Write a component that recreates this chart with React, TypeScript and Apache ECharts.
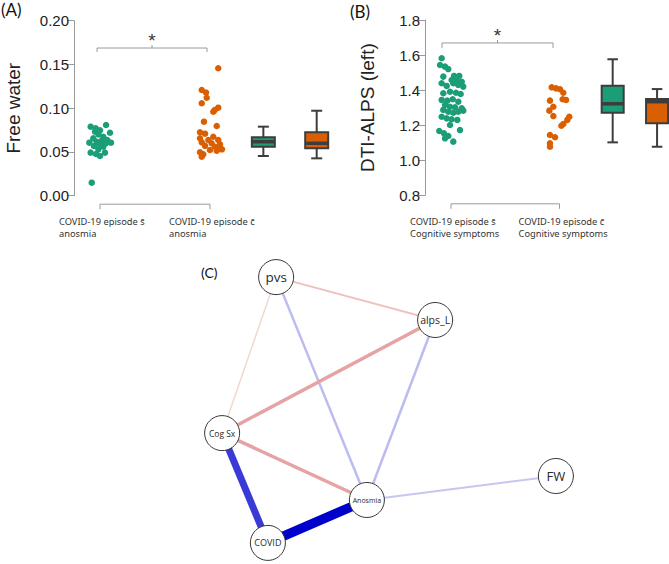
import React, { useEffect, useRef } from "react";
import * as echarts from "echarts";

const GREEN = "#1b9e77";
const ORANGE = "#d95f02";
const BOX_STROKE = "#3d3d3d";
const AXIS_GRAY = "#9a9a9a";

// ---------- Panel A : Free water ----------
const fwGreenJitter = [-0.085, -0.039, 0.055, 0, 0.091, -0.015, 0.03, -0.061, -0.097, -0.03, 0.015, 0.066, 0.1, 0, -0.055, 0.03, -0.015, -0.085, -0.036, 0.045, 0, -0.075, 0.055, -0.045];
const fwGreenValues = [0.0789, 0.077, 0.0808, 0.0747, 0.072, 0.0701, 0.0674, 0.0655, 0.0606, 0.0617, 0.0629, 0.0637, 0.0606, 0.0587, 0.0568, 0.056, 0.053, 0.0492, 0.0477, 0.0492, 0.0454, 0.0149, 0.0599, 0.0732];
const fwOrangeJitter = [0.075, -0.075, -0.036, -0.03, -0.075, 0.075, 0.043, 0.03, -0.055, 0.061, -0.091, -0.045, 0.03, -0.091, -0.015, 0.075, -0.075, 0.015, 0.091, -0.045, 0.045, 0.091, 0, 0.061, -0.091, -0.061, -0.075, 0.109];
const fwOrangeValues = [0.1456, 0.1208, 0.118, 0.112, 0.1056, 0.1006, 0.098, 0.096, 0.0846, 0.0797, 0.0725, 0.0709, 0.0674, 0.0656, 0.0637, 0.0637, 0.061, 0.0599, 0.0587, 0.057, 0.056, 0.0542, 0.0522, 0.0514, 0.0496, 0.0473, 0.0446, 0.053];
// box stats: [min, q1, median, q3, max]
const fwGreenBox = [0.0454, 0.056, 0.0617, 0.0667, 0.0789];
const fwOrangeBox = [0.0427, 0.0542, 0.0599, 0.0725, 0.0971];
const fwTicks = [0, 0.05, 0.1, 0.15, 0.2];
const fwLabels = [["COVID-19 episode s\u0304", "anosmia"], ["COVID-19 episode c\u0304", "anosmia"]];

// ---------- Panel B : DTI-ALPS (left) ----------
const alpsGreenJitter = [-0.086, -0.101, -0.055, -0.025, -0.071, 0.028, 0.076, 0.006, 0.053, 0.099, 0.021, 0.067, -0.086, -0.04, 0.113, -0.071, -0.009, 0.046, 0.089, -0.086, -0.034, 0.016, 0.067, -0.055, -0.009, 0.037, 0.099, -0.071, -0.025, 0.021, 0.067, 0.113, -0.086, -0.04, 0.006, 0.058, -0.009, 0.083, -0.108, -0.065, -0.025, -0.055, 0.021];
const alpsGreenValues = [1.582, 1.543, 1.534, 1.52, 1.477, 1.481, 1.481, 1.458, 1.454, 1.448, 1.439, 1.429, 1.439, 1.424, 1.42, 1.382, 1.391, 1.385, 1.378, 1.344, 1.34, 1.348, 1.334, 1.315, 1.305, 1.302, 1.296, 1.287, 1.277, 1.271, 1.277, 1.283, 1.248, 1.239, 1.234, 1.23, 1.201, 1.172, 1.167, 1.154, 1.138, 1.125, 1.106];
const alpsOrangeJitter = [-0.072, -0.032, 0.005, 0.035, -0.088, 0.029, 0.06, -0.057, -0.094, -0.057, 0.09, 0.072, 0.035, 0.017, -0.088, -0.041, -0.088, -0.088];
const alpsOrangeValues = [1.416, 1.41, 1.405, 1.385, 1.34, 1.348, 1.344, 1.305, 1.283, 1.252, 1.248, 1.23, 1.207, 1.197, 1.144, 1.131, 1.097, 1.077];
const alpsGreenBox = [1.102, 1.271, 1.322, 1.425, 1.576];
const alpsOrangeBox = [1.077, 1.211, 1.334, 1.349, 1.406];
const alpsTicks = [0.8, 1.0, 1.2, 1.4, 1.6, 1.8];
const alpsLabels = [["COVID-19 episode s\u0304", "Cognitive symptoms"], ["COVID-19 episode c\u0304", "Cognitive symptoms"]];

// ---------- Panel C : network ----------
const nodeNames = ["pvs", "alps_L", "Cog Sx", "FW", "Anosmia", "COVID"];
const nodeX = [0.203, 0.627, 0.059, 0.949, 0.445, 0.181];
const nodeY = [0.943, 0.8, 0.423, 0.28, 0.2, 0.057];
const nodeFont = [13.5, 10.5, 8.5, 13, 7, 9];
const edgeSource = ["pvs", "pvs", "pvs", "alps_L", "alps_L", "Cog Sx", "Anosmia", "Cog Sx", "Anosmia"];
const edgeTarget = ["alps_L", "Cog Sx", "Anosmia", "Cog Sx", "Anosmia", "Anosmia", "FW", "COVID", "COVID"];
const edgeWeight = [2, 1.5, 2.5, 3.5, 2.5, 3.5, 2, 7, 9.5];
const edgeColor = ["#efc2be", "#f3d6d0", "#bcbcf0", "#e6a3a3", "#bcbcf0", "#e6a3a3", "#c6c6f3", "#3a3ad6", "#0000cc"];

const TICK_FONT = "Liberation Sans";
const SMALL_FONT = "Noto Sans";
const PANEL_FONT = "Lato";

function scatter(grid: number, center: number, jit: number[], vals: number[], color: string) {
  return {
    type: "scatter",
    xAxisIndex: grid,
    yAxisIndex: grid,
    symbolSize: 6.5,
    itemStyle: { color, opacity: 1 },
    silent: true,
    data: vals.map((v, i) => [center + jit[i], v]),
  };
}

function boxSeries(grid: number, xs: number[], boxes: number[][], colors: string[], boxW: number) {
  return {
    type: "custom",
    xAxisIndex: grid,
    yAxisIndex: grid,
    silent: true,
    data: boxes.map((b, i) => [xs[i], ...b]),
    renderItem: (params: any, api: any) => {
      const x = api.value(0);
      const lo = api.coord([x, api.value(1)]);
      const q1 = api.coord([x, api.value(2)]);
      const md = api.coord([x, api.value(3)]);
      const q3 = api.coord([x, api.value(4)]);
      const hi = api.coord([x, api.value(5)]);
      const w = api.size([boxW, 0])[0];
      const cw = w * 0.48;
      const cx = lo[0];
      const ls = { stroke: BOX_STROKE, lineWidth: 2 };
      return {
        type: "group",
        children: [
          { type: "line", shape: { x1: cx, y1: hi[1], x2: cx, y2: q3[1] }, style: ls },
          { type: "line", shape: { x1: cx, y1: q1[1], x2: cx, y2: lo[1] }, style: ls },
          { type: "line", shape: { x1: cx - cw / 2, y1: hi[1], x2: cx + cw / 2, y2: hi[1] }, style: ls },
          { type: "line", shape: { x1: cx - cw / 2, y1: lo[1], x2: cx + cw / 2, y2: lo[1] }, style: ls },
          {
            type: "rect",
            shape: { x: cx - w / 2, y: q3[1], width: w, height: q1[1] - q3[1] },
            style: { fill: colors[params.dataIndex], stroke: BOX_STROKE, lineWidth: 2 },
          },
          { type: "line", shape: { x1: cx - w / 2, y1: md[1], x2: cx + w / 2, y2: md[1] }, style: { stroke: BOX_STROKE, lineWidth: 3.5 } },
        ],
      };
    },
  };
}

function sigBracket(grid: number, x1: number, x2: number, y: number, tickDown: number) {
  return {
    type: "custom",
    xAxisIndex: grid,
    yAxisIndex: grid,
    silent: true,
    data: [[x1, x2, y]],
    renderItem: (params: any, api: any) => {
      const p1 = api.coord([api.value(0), api.value(2)]);
      const p2 = api.coord([api.value(1), api.value(2)]);
      const mx = (p1[0] + p2[0]) / 2;
      return {
        type: "group",
        children: [
          {
            type: "polyline",
            shape: { points: [[p1[0], p1[1] + tickDown], [p1[0], p1[1]], [p2[0], p2[1]], [p2[0], p2[1] + tickDown]] },
            style: { stroke: AXIS_GRAY, lineWidth: 1, fill: "none" },
          },
          { type: "line", shape: { x1: mx, y1: p1[1], x2: mx, y2: p1[1] - 3 }, style: { stroke: AXIS_GRAY, lineWidth: 1 } },
          {
            type: "text",
            x: mx,
            y: p1[1] - 7.5,
            style: { text: "*", fontSize: 19, fontFamily: TICK_FONT, fill: "#333", align: "center", verticalAlign: "middle" },
          },
        ],
      };
    },
  };
}

function catAxis(grid: number, yMin: number, labels: string[][]) {
  return {
    type: "custom",
    xAxisIndex: grid,
    yAxisIndex: grid,
    silent: true,
    data: [[1, 2, yMin]],
    renderItem: (params: any, api: any) => {
      const p1 = api.coord([api.value(0), api.value(2)]);
      const p2 = api.coord([api.value(1), api.value(2)]);
      const y = p1[1] + 8.5;
      const children: any[] = [
        {
          type: "polyline",
          shape: { points: [[p1[0], y + 5], [p1[0], y], [p2[0], y], [p2[0], y + 5]] },
          style: { stroke: AXIS_GRAY, lineWidth: 1, fill: "none" },
        },
      ];
      [p1, p2].forEach((p, i) => {
        children.push({
          type: "text",
          x: p[0] - 41,
          y: y + 12,
          style: {
            text: labels[i].join("\n"),
            fontSize: 9.3,
            lineHeight: 11.5,
            fontFamily: SMALL_FONT,
            fill: "#333",
            align: "left",
            verticalAlign: "top",
          },
        });
      });
      return { type: "group", children };
    },
  };
}

function yAxisCfg(grid: number, min: number, max: number, interval: number, digits: number, name: string, gap: number) {
  return {
    type: "value",
    gridIndex: grid,
    min,
    max,
    interval,
    name,
    nameLocation: "middle",
    nameGap: gap,
    nameRotate: 90,
    nameTextStyle: { fontSize: 19, fontFamily: TICK_FONT, color: "#222" },
    axisLine: { show: true, lineStyle: { color: AXIS_GRAY, width: 1 } },
    axisTick: { show: true, length: 7, lineStyle: { color: AXIS_GRAY } },
    splitLine: { show: false },
    axisLabel: {
      fontSize: 15,
      fontFamily: TICK_FONT,
      color: "#222",
      margin: 5,
      formatter: (v: number) => v.toFixed(digits),
    },
  };
}

export default function App() {
  const ref = useRef<HTMLDivElement>(null);
  useEffect(() => {
    if (!ref.current) return;
    const chart = echarts.init(ref.current, undefined, { renderer: "svg" });
    const option: any = {
      animation: false,
      backgroundColor: "#ffffff",
      grid: [
        { left: 74, top: 20.7, width: 256, height: 175, outerBoundsMode: "none" },
        { left: 425, top: 20, width: 244, height: 175.3, outerBoundsMode: "none" },
        { left: 200, top: 260, width: 375, height: 300, outerBoundsMode: "none" },
      ],
      xAxis: [
        { type: "value", gridIndex: 0, min: 0.7636, max: 3.091, show: false },
        { type: "value", gridIndex: 1, min: 0.7604, max: 3.009, show: false },
        { type: "value", gridIndex: 2, min: 0, max: 1, show: false },
      ],
      yAxis: [
        yAxisCfg(0, fwTicks[0], fwTicks[fwTicks.length - 1], 0.05, 2, "Free water", 51),
        yAxisCfg(1, alpsTicks[0], alpsTicks[alpsTicks.length - 1], 0.2, 1, "DTI-ALPS (left)", 48),
        { type: "value", gridIndex: 2, min: 0, max: 1, show: false },
      ],
      series: [
        scatter(0, 1, fwGreenJitter, fwGreenValues, GREEN),
        scatter(0, 2, fwOrangeJitter, fwOrangeValues, ORANGE),
        boxSeries(0, [2.485, 2.97], [fwGreenBox, fwOrangeBox], [GREEN, ORANGE], 0.209),
        sigBracket(0, 0.973, 1.973, 0.1688, 4),
        catAxis(0, fwTicks[0], fwLabels),
        scatter(1, 1, alpsGreenJitter, alpsGreenValues, GREEN),
        scatter(1, 2, alpsOrangeJitter, alpsOrangeValues, ORANGE),
        boxSeries(1, [2.49, 2.899], [alpsGreenBox, alpsOrangeBox], [GREEN, ORANGE], 0.203),
        sigBracket(1, 0.917, 1.94, 1.669, 5),
        catAxis(1, alpsTicks[0], alpsLabels),
        {
          type: "graph",
          coordinateSystem: "cartesian2d",
          xAxisIndex: 2,
          yAxisIndex: 2,
          silent: true,
          symbol: "circle",
          symbolSize: 35,
          itemStyle: { color: "#ffffff", borderColor: "#333333", borderWidth: 1 },
          label: { show: true, position: "inside", color: "#2a2a2a", fontFamily: "Open Sans" },
          lineStyle: { opacity: 1, curveness: 0 },
          emphasis: { disabled: true },
          data: nodeNames.map((n, i) => ({ name: n, value: [nodeX[i], nodeY[i]], label: { fontSize: nodeFont[i] } })),
          links: edgeSource.map((s, i) => ({
            source: s,
            target: edgeTarget[i],
            lineStyle: { width: edgeWeight[i], color: edgeColor[i], opacity: 1 },
          })),
        },
      ],
      graphic: [
        { type: "text", left: 1, top: 1, style: { text: "(A)", fontSize: 17, fontFamily: PANEL_FONT, fill: "#111" } },
        { type: "text", left: 350, top: 3, style: { text: "(B)", fontSize: 17, fontFamily: PANEL_FONT, fill: "#111" } },
        { type: "text", left: 201, top: 265, style: { text: "(C)", fontSize: 14, fontFamily: PANEL_FONT, fill: "#111" } },
      ],
    };
    chart.setOption(option);
    return () => chart.dispose();
  }, []);
  return (
    <div
      ref={ref}
      style={{ position: "fixed", left: 0, top: 0, width: 669, height: 564, background: "#fff" }}
    />
  );
}
